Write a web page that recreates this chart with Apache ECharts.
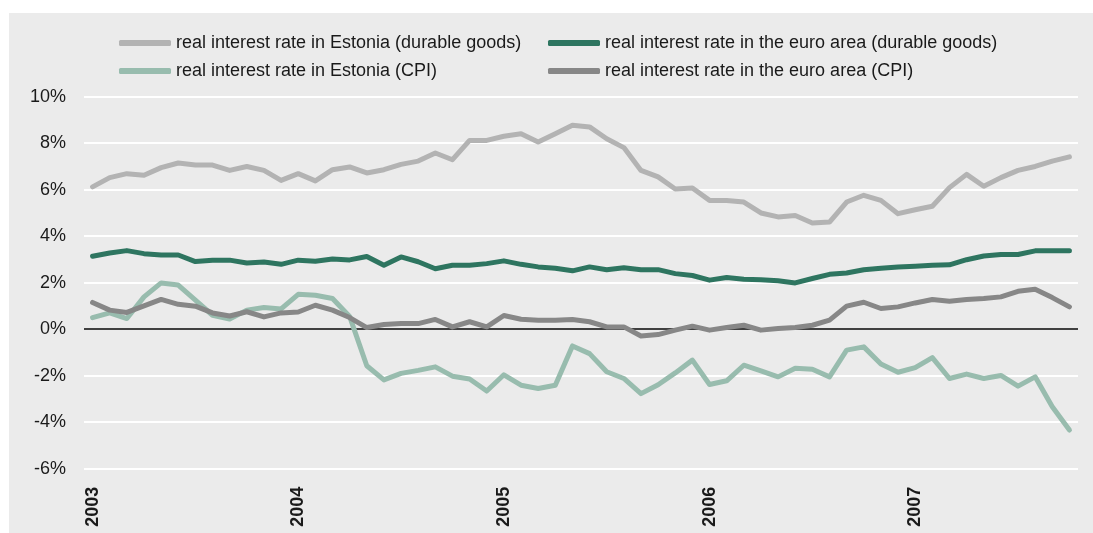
<!DOCTYPE html>
<html>
<head>
<meta charset="utf-8">
<script src="https://cdn.jsdelivr.net/npm/echarts@6/dist/echarts.min.js"></script>
<style>
html,body{margin:0;padding:0;background:#ffffff;}
#chart{width:1093px;height:533px;}
</style>
</head>
<body>
<div id="chart"></div>
<script>
// ---- data ----
const years = ['2003', '2004', '2005', '2006', '2007'];
const nPoints = 58; // Jan 2003 .. Oct 2007 (monthly)

const estoniaDurable = [
  6.12, 6.52, 6.69, 6.62, 6.95, 7.15, 7.06, 7.06, 6.83, 7.00,
  6.83, 6.40, 6.69, 6.38, 6.86, 6.98, 6.72, 6.86, 7.09, 7.23,
  7.58, 7.29, 8.12, 8.12, 8.30, 8.41, 8.05, 8.41, 8.77, 8.70,
  8.19, 7.81, 6.83, 6.55, 6.03, 6.07, 5.54, 5.54, 5.47, 5.00,
  4.83, 4.89, 4.57, 4.61, 5.47, 5.76, 5.54, 4.97, 5.14, 5.29,
  6.09, 6.66, 6.15, 6.52, 6.83, 7.00, 7.23, 7.41
];
const euroDurable = [
  3.14, 3.28, 3.38, 3.25, 3.19, 3.19, 2.91, 2.97, 2.97, 2.85,
  2.89, 2.79, 2.97, 2.92, 3.02, 2.98, 3.13, 2.75, 3.11, 2.90,
  2.60, 2.75, 2.75, 2.82, 2.94, 2.79, 2.68, 2.62, 2.51, 2.68,
  2.56, 2.64, 2.56, 2.56, 2.39, 2.31, 2.11, 2.22, 2.15, 2.13,
  2.08, 1.99, 2.18, 2.36, 2.42, 2.56, 2.62, 2.68, 2.71, 2.75,
  2.77, 2.99, 3.15, 3.21, 3.21, 3.37, 3.37, 3.37
];
const estoniaCPI = [
  0.50, 0.70, 0.46, 1.39, 1.99, 1.90, 1.25, 0.60, 0.44, 0.82,
  0.93, 0.87, 1.50, 1.46, 1.32, 0.55, -1.57, -2.18, -1.90, -1.77,
  -1.62, -2.02, -2.14, -2.66, -1.96, -2.41, -2.55, -2.41, -0.72, -1.05,
  -1.83, -2.12, -2.77, -2.39, -1.88, -1.33, -2.38, -2.22, -1.55, -1.79,
  -2.05, -1.68, -1.72, -2.05, -0.90, -0.76, -1.50, -1.85, -1.65, -1.22,
  -2.12, -1.93, -2.12, -1.99, -2.45, -2.05, -3.34, -4.34
];
const euroCPI = [
  1.15, 0.82, 0.72, 1.00, 1.28, 1.07, 0.99, 0.70, 0.57, 0.75,
  0.53, 0.70, 0.74, 1.03, 0.82, 0.50, 0.07, 0.20, 0.24, 0.24,
  0.42, 0.10, 0.32, 0.10, 0.59, 0.43, 0.39, 0.39, 0.42, 0.32,
  0.10, 0.10, -0.29, -0.23, -0.04, 0.13, -0.04, 0.07, 0.17, -0.04,
  0.03, 0.07, 0.17, 0.39, 0.99, 1.16, 0.89, 0.96, 1.13, 1.28,
  1.20, 1.28, 1.32, 1.39, 1.63, 1.72, 1.36, 0.96
];
const seriesNames = [
  'real interest rate in Estonia (durable goods)',
  'real interest rate in the euro area (durable goods)',
  'real interest rate in Estonia (CPI)',
  'real interest rate in the euro area (CPI)'
];
const yTicks = { min: -6, max: 10, step: 2 };

// ---- build ----
const categories = [];
years.forEach(function (y) {
  for (let m = 1; m <= 12; m++) {
    if (categories.length < nPoints) categories.push(y + '-' + (m < 10 ? '0' + m : m));
  }
});

const colors = ['#b3b3b3', '#2e7560', '#98bcae', '#878787'];
const dataSets = [estoniaDurable, euroDurable, estoniaCPI, euroCPI];
const FONT = 'Liberation Sans, Arial, Helvetica, sans-serif';
const TEXT = '#1a1a1a';

const series = dataSets.map(function (d, i) {
  const s = {
    name: seriesNames[i],
    type: 'line',
    data: d,
    symbol: 'none',
    smooth: false,
    color: colors[i],
    lineStyle: { width: 5, color: colors[i], cap: 'round', join: 'round' },
    z: 3 + i
  };
  if (i === 0) {
    s.markLine = {
      silent: true,
      symbol: 'none',
      label: { show: false },
      lineStyle: { color: '#000000', width: 1.5, type: 'solid' },
      data: [{ yAxis: 0 }],
      z: 2
    };
  }
  return s;
});

function legendAt(name, left, top) {
  return {
    data: [name],
    left: left,
    top: top,
    padding: 0,
    itemWidth: 52,
    itemHeight: 6,
    itemGap: 0,
    icon: 'roundRect',
    selectedMode: false,
    textStyle: { fontFamily: FONT, fontSize: 18, color: TEXT }
  };
}

const chart = echarts.init(document.getElementById('chart'), null, { renderer: 'canvas' });
chart.setOption({
  animation: false,
  backgroundColor: '#ffffff',
  graphic: [{
    type: 'rect',
    shape: { x: 9, y: 13, width: 1084, height: 520 },
    style: { fill: '#ebebeb' },
    z: -100,
    silent: true
  }],
  legend: [
    legendAt(seriesNames[0], 119, 34),
    legendAt(seriesNames[1], 548, 34),
    legendAt(seriesNames[2], 119, 62),
    legendAt(seriesNames[3], 548, 62)
  ],
  grid: { left: 84, right: 15, top: 96.7, bottom: 64.3, containLabel: false },
  xAxis: {
    type: 'category',
    data: categories,
    boundaryGap: true,
    axisLine: { show: false },
    axisTick: { show: false },
    splitLine: { show: false },
    axisLabel: {
      rotate: 90,
      margin: 18,
      interval: function (idx) { return idx % 12 === 0; },
      formatter: function (v) { return v.slice(0, 4); },
      fontFamily: FONT,
      fontSize: 18,
      fontWeight: 'bold',
      color: TEXT
    }
  },
  yAxis: {
    type: 'value',
    min: yTicks.min,
    max: yTicks.max,
    interval: yTicks.step,
    axisLine: { show: false },
    axisTick: { show: false },
    splitLine: { show: true, lineStyle: { color: '#ffffff', width: 2 } },
    axisLabel: {
      formatter: '{value}%',
      margin: 18,
      fontFamily: FONT,
      fontSize: 18,
      color: TEXT
    }
  },
  series: series
});
</script>
</body>
</html>
